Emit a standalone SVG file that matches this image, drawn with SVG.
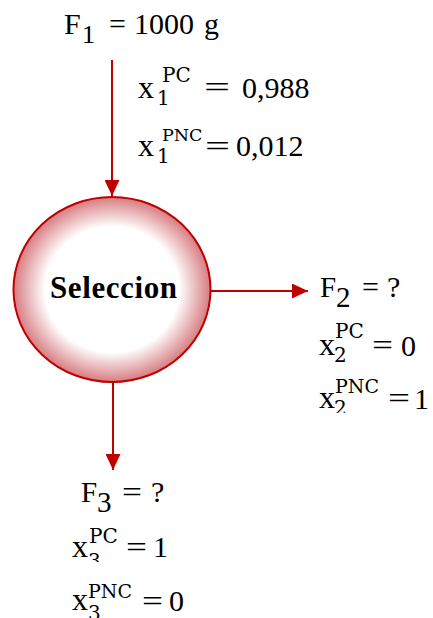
<svg xmlns="http://www.w3.org/2000/svg" width="433" height="618" viewBox="0 0 433 618">
<style>
.t{font-family:"Liberation Serif","Times New Roman",serif;font-size:30px;fill:#000}
.m{font-family:"DejaVu Serif",serif;font-size:20px;fill:#000}
.x{font-family:"Liberation Serif","Times New Roman",serif;font-size:32px;fill:#000}
.b{font-family:"Liberation Serif","Times New Roman",serif;font-size:31px;font-weight:bold;fill:#000}
.c{stroke:#c00000;stroke-width:2;fill:none}
</style>
<defs>
<radialGradient id="g" cx="50%" cy="50%" r="50%">
<stop offset="0" stop-color="#ffffff"/>
<stop offset="0.68" stop-color="#ffffff"/>
<stop offset="1" stop-color="#d77c81"/>
</radialGradient>
<marker id="ah" markerUnits="userSpaceOnUse" markerWidth="16" markerHeight="15" refX="16" refY="7.5" orient="auto">
<path d="M0,0 L16,7.5 L0,15 z" fill="#c00000"/>
</marker>
<clipPath id="c2"><rect x="300" y="380" width="60" height="33"/></clipPath>
<clipPath id="c3"><rect x="60" y="540" width="60" height="22"/></clipPath>
</defs>

<g id="connectors">
<line class="c" x1="112" y1="60" x2="112" y2="196" marker-end="url(#ah)"/>
<line class="c" x1="211" y1="291" x2="308" y2="291" marker-end="url(#ah)"/>
<line class="c" x1="113" y1="382" x2="113" y2="470" marker-end="url(#ah)"/>
</g>

<g id="seleccion">
<ellipse cx="112" cy="289.5" rx="98.5" ry="92.5" fill="url(#g)" stroke="#c00000" stroke-width="2"/>
<text class="b" x="50" y="298" textLength="127" lengthAdjust="spacing">Seleccion</text>
</g>

<g id="f1">
<text class="t" x="64" y="34">F</text>
<text class="t" x="82" y="43" style="font-size:26px">1</text>
<text class="t" x="109" y="34">=</text>
<text class="t" x="134" y="34">1000</text>
<text class="t" x="204" y="34">g</text>
<text class="x" x="138" y="98">x</text>
<text class="m" x="162" y="82">PC</text>
<text class="m" x="157" y="105">1</text>
<text class="t" x="204" y="97" textLength="26" lengthAdjust="spacingAndGlyphs">=</text>
<text class="t" x="242" y="98">0,988</text>
<text class="x" x="138" y="156">x</text>
<text class="m" x="162" y="141" style="font-size:17.5px">PNC</text>
<text class="m" x="157" y="163">1</text>
<text class="t" x="205" y="156" textLength="25" lengthAdjust="spacingAndGlyphs">=</text>
<text class="t" x="236" y="156">0,012</text>
</g>

<g id="f2">
<text class="t" x="320" y="297" style="font-size:29px">F</text>
<text class="t" x="336" y="307" style="font-size:29px">2</text>
<text class="t" x="362" y="297">=</text>
<text class="t" x="387" y="297">?</text>
<text class="x" x="319" y="355">x</text>
<text class="m" x="335" y="338">PC</text>
<text class="m" x="334" y="362">2</text>
<text class="t" x="372" y="355" textLength="21" lengthAdjust="spacingAndGlyphs">=</text>
<text class="t" x="401" y="356">0</text>
<text class="x" x="319" y="408">x</text>
<text class="m" x="335" y="393" style="font-size:19px">PNC</text>
<text class="m" x="334" y="415" clip-path="url(#c2)">2</text>
<text class="t" x="388" y="408" textLength="22" lengthAdjust="spacingAndGlyphs">=</text>
<text class="t" x="414" y="409">1</text>
</g>

<g id="f3">
<text class="t" x="81" y="502" style="font-size:29px">F</text>
<text class="t" x="97" y="512" style="font-size:29px">3</text>
<text class="t" x="122" y="502" textLength="20" lengthAdjust="spacingAndGlyphs">=</text>
<text class="t" x="151" y="502">?</text>
<text class="x" x="72" y="557">x</text>
<text class="m" x="89" y="543">PC</text>
<text class="m" x="88" y="568" clip-path="url(#c3)">3</text>
<text class="t" x="126" y="557" textLength="21" lengthAdjust="spacingAndGlyphs">=</text>
<text class="t" x="153" y="557">1</text>
<text class="x" x="72" y="610">x</text>
<text class="m" x="88" y="598" style="font-size:19px">PNC</text>
<text class="m" x="88" y="620">3</text>
<text class="t" x="142" y="611" textLength="21" lengthAdjust="spacingAndGlyphs">=</text>
<text class="t" x="169" y="611">0</text>
</g>
</svg>
